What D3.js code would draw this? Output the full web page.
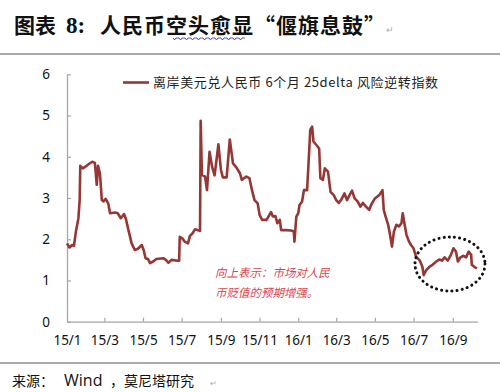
<!DOCTYPE html>
<html><head><meta charset="utf-8">
<script src="https://cdn.jsdelivr.net/npm/d3@7"></script>
<style>html,body{margin:0;padding:0;background:#fff;} svg{display:block;}</style>
</head><body>
<svg id="c" width="500" height="392"></svg>
<script>
// ---------- data ----------
const dates = ["2015-01-01","2015-01-05","2015-01-09","2015-01-12","2015-01-15","2015-01-19","2015-01-21","2015-01-22","2015-01-26","2015-01-30",
"2015-02-05","2015-02-10","2015-02-14","2015-02-17","2015-02-19","2015-02-22","2015-02-25","2015-02-28","2015-03-03","2015-03-07",
"2015-03-10","2015-03-18","2015-03-22","2015-03-27","2015-04-01","2015-04-04","2015-04-08","2015-04-13","2015-04-18","2015-04-23",
"2015-04-29","2015-05-02","2015-05-05","2015-05-09","2015-05-12","2015-05-17","2015-05-22","2015-06-02","2015-06-06","2015-06-10",
"2015-06-15","2015-06-25","2015-06-27","2015-06-28","2015-07-02","2015-07-06","2015-07-11","2015-07-14","2015-07-18","2015-07-22",
"2015-07-27","2015-07-30","2015-07-31","2015-08-02","2015-08-07","2015-08-10","2015-08-14","2015-08-18","2015-08-22","2015-08-28",
"2015-09-01","2015-09-04","2015-09-10","2015-09-15","2015-09-20","2015-09-25","2015-10-01","2015-10-04","2015-10-11","2015-10-16",
"2015-10-20","2015-10-24","2015-10-29","2015-11-01","2015-11-05","2015-11-12","2015-11-19","2015-11-22","2015-11-26","2015-11-29",
"2015-12-03","2015-12-05","2015-12-13","2015-12-21","2015-12-25","2015-12-26","2015-12-29","2016-01-01","2016-01-03","2016-01-07",
"2016-01-10","2016-01-15","2016-01-17","2016-01-20","2016-01-23","2016-01-25","2016-01-30","2016-02-03","2016-02-05","2016-02-09",
"2016-02-12","2016-02-17","2016-02-21","2016-02-26","2016-03-01","2016-03-05","2016-03-09","2016-03-14","2016-03-18","2016-03-22",
"2016-03-26","2016-03-30","2016-04-04","2016-04-08","2016-04-12","2016-04-17","2016-04-22","2016-04-25","2016-05-01","2016-05-06",
"2016-05-08","2016-05-13","2016-05-15","2016-05-18","2016-05-22","2016-05-25","2016-05-28","2016-05-31","2016-06-04","2016-06-08",
"2016-06-12","2016-06-14","2016-06-17","2016-06-20","2016-06-24","2016-06-27","2016-07-01","2016-07-05","2016-07-11","2016-07-15",
"2016-07-17","2016-07-21","2016-07-26","2016-07-31","2016-08-06","2016-08-11","2016-08-15","2016-08-19","2016-08-24","2016-08-29",
"2016-09-02","2016-09-06","2016-09-09","2016-09-13","2016-09-18","2016-09-22","2016-09-26","2016-09-30","2016-10-01","2016-10-05",
"2016-10-09"];
const values = [1.90,1.80,1.86,1.84,2.18,2.51,2.95,3.78,3.72,3.76,
3.83,3.88,3.85,3.32,3.78,3.60,2.95,2.92,2.98,2.87,
2.63,2.65,2.63,2.51,2.61,2.49,2.22,1.90,1.74,1.77,
1.86,1.74,1.54,1.52,1.42,1.46,1.52,1.54,1.50,1.43,
1.50,1.48,1.48,2.06,2.02,1.94,1.90,2.08,2.14,2.24,
2.22,2.20,4.87,3.56,3.52,3.19,4.12,3.76,3.55,4.30,
3.68,3.50,3.50,4.42,3.84,3.75,3.60,3.44,3.52,3.48,
3.19,2.95,2.87,2.59,2.47,2.47,2.66,2.55,2.56,2.39,
2.47,2.22,2.22,2.21,2.19,1.94,2.55,2.63,2.83,2.91,
3.19,3.19,3.76,4.65,4.73,4.37,4.28,4.20,3.48,3.44,
3.72,3.64,3.15,3.07,2.95,2.88,2.96,3.11,2.95,3.07,
3.18,2.99,2.91,2.79,2.88,2.79,2.71,2.83,2.99,3.05,
3.07,3.19,2.71,2.55,2.35,2.10,1.82,2.18,2.35,2.31,
2.39,2.63,2.35,2.10,1.94,1.86,1.78,1.58,1.48,1.33,
1.13,1.25,1.33,1.38,1.46,1.51,1.48,1.56,1.48,1.62,
1.78,1.70,1.46,1.56,1.60,1.56,1.70,1.62,1.38,1.33,
1.29];
const yTicks = [0,1,2,3,4,5,6];
const xTickDates = ["2015-01-01","2015-03-01","2015-05-01","2015-07-01","2015-09-01","2015-11-01","2016-01-01","2016-03-01","2016-05-01","2016-07-01","2016-09-01"];
const xTickLabels = ["15/1","15/3","15/5","15/7","15/9","15/11","16/1","16/3","16/5","16/7","16/9"];
const seriesName = "离岸美元兑人民币 6个月 25delta 风险逆转指数";
const noteLines = ["向上表示：市场对人民","币贬值的预期增强。"];

// ---------- drawing ----------
const parse = d3.timeParse("%Y-%m-%d");
const data = dates.map((d,i)=>({date:parse(d), value:values[i]}));
const svg = d3.select("#c");
const lineColor = "#953735";
const axisColor = "#a6a6a6";

// page rules
svg.append("line").attr("x1",0).attr("x2",500).attr("y1",54).attr("y2",54).attr("stroke","#8c8c8c").attr("stroke-width",1.5);
svg.append("line").attr("x1",0).attr("x2",500).attr("y1",363).attr("y2",363).attr("stroke","#8c8c8c").attr("stroke-width",1.5);

// title
const cjk = "'Noto Sans CJK SC','Noto Sans CJK JP',sans-serif";
const title = svg.append("g").attr("fill","#111").attr("font-weight","bold");
title.append("text").attr("x",14).attr("y",33).attr("font-family",cjk).attr("font-size",21).text("图表");
title.append("text").attr("x",66).attr("y",33).attr("font-family","'Liberation Serif',serif").attr("font-size",23).text("8:");
title.append("text").attr("x",100).attr("y",33).attr("font-family",cjk).attr("font-size",21)
  .attr("textLength",285).attr("lengthAdjust","spacing").text("人民币空头愈显“偃旗息鼓”");
// spell-check squiggle
let sq = "M173,38";
for (let xx=173; xx<243; xx+=3) sq += ` L${xx+1.5},${(xx-173)/3%2===0?40:38} L${xx+3},38`;
svg.append("path").attr("d",sq).attr("fill","none").attr("stroke","#3a3acc").attr("stroke-width",0.9);
svg.append("text").attr("x",386).attr("y",33).attr("font-size",9).attr("fill","#aaa").text("↵");

// scales
const x = d3.scaleTime().domain([parse("2015-01-01"), parse("2016-10-10")]).range([67,477.5]);
const y = d3.scaleLinear().domain([0,6]).range([321.7,74.3]);

// axes
const yAxis = d3.axisLeft(y).tickValues(yTicks).tickFormat(d3.format("d")).tickSizeInner(-4).tickSizeOuter(0).tickPadding(17);
const gy = svg.append("g").attr("transform","translate(67,0)").call(yAxis);
const xAxis = d3.axisBottom(x).tickValues(xTickDates.map(parse))
  .tickFormat((d,i)=>xTickLabels[i]).tickSizeInner(-4).tickSizeOuter(0).tickPadding(14);
const gx = svg.append("g").attr("transform","translate(0,321.7)").call(xAxis);
[gx,gy].forEach(g=>{
  g.select(".domain").attr("stroke",axisColor).attr("stroke-width",1.3);
  g.selectAll(".tick line").attr("stroke",axisColor).attr("stroke-width",1.2);
  g.selectAll(".tick text").attr("fill","#111").attr("font-family","'Noto Sans',sans-serif").attr("font-size",13.5);
});
gx.selectAll(".tick:first-of-type line").remove();

// series line
svg.append("path").datum(data)
  .attr("d", d3.line().x(d=>x(d.date)).y(d=>y(d.value)))
  .attr("fill","none").attr("stroke",lineColor).attr("stroke-width",2.6)
  .attr("stroke-linejoin","round");

// legend
svg.append("line").attr("x1",123).attr("x2",149).attr("y1",82.5).attr("y2",82.5).attr("stroke",lineColor).attr("stroke-width",2.6);
svg.append("text").attr("x",153).attr("y",87).attr("font-family",cjk).attr("font-size",13).attr("fill","#222")
  .attr("textLength",285).attr("lengthAdjust","spacing").text(seriesName);

// annotation (italic via skew)
const note = svg.append("g").attr("font-family",cjk).attr("font-size",11.5).attr("fill","#d9464f");
noteLines.forEach((t,i)=>note.append("text")
  .attr("transform",`translate(215,${277+i*19.5}) skewX(-14)`).text(t));

// dotted ellipse
svg.append("ellipse").attr("cx",450).attr("cy",264).attr("rx",35).attr("ry",27)
  .attr("fill","none").attr("stroke","#111").attr("stroke-width",3)
  .attr("stroke-dasharray","0.1 5.1").attr("stroke-linecap","round");

// footer
const foot = svg.append("text").attr("y",386).attr("fill","#111");
foot.append("tspan").attr("x",12).attr("font-family",cjk).attr("font-size",14).text("来源：");
foot.append("tspan").attr("x",64).attr("font-family","'Open Sans','Noto Sans',sans-serif").attr("font-size",16).text("Wind");
foot.append("tspan").attr("x",110).attr("font-family",cjk).attr("font-size",14).text("，莫尼塔研究");
svg.append("text").attr("x",210).attr("y",386).attr("font-size",8).attr("fill","#aaa").text("↵");
</script>
</body></html>
